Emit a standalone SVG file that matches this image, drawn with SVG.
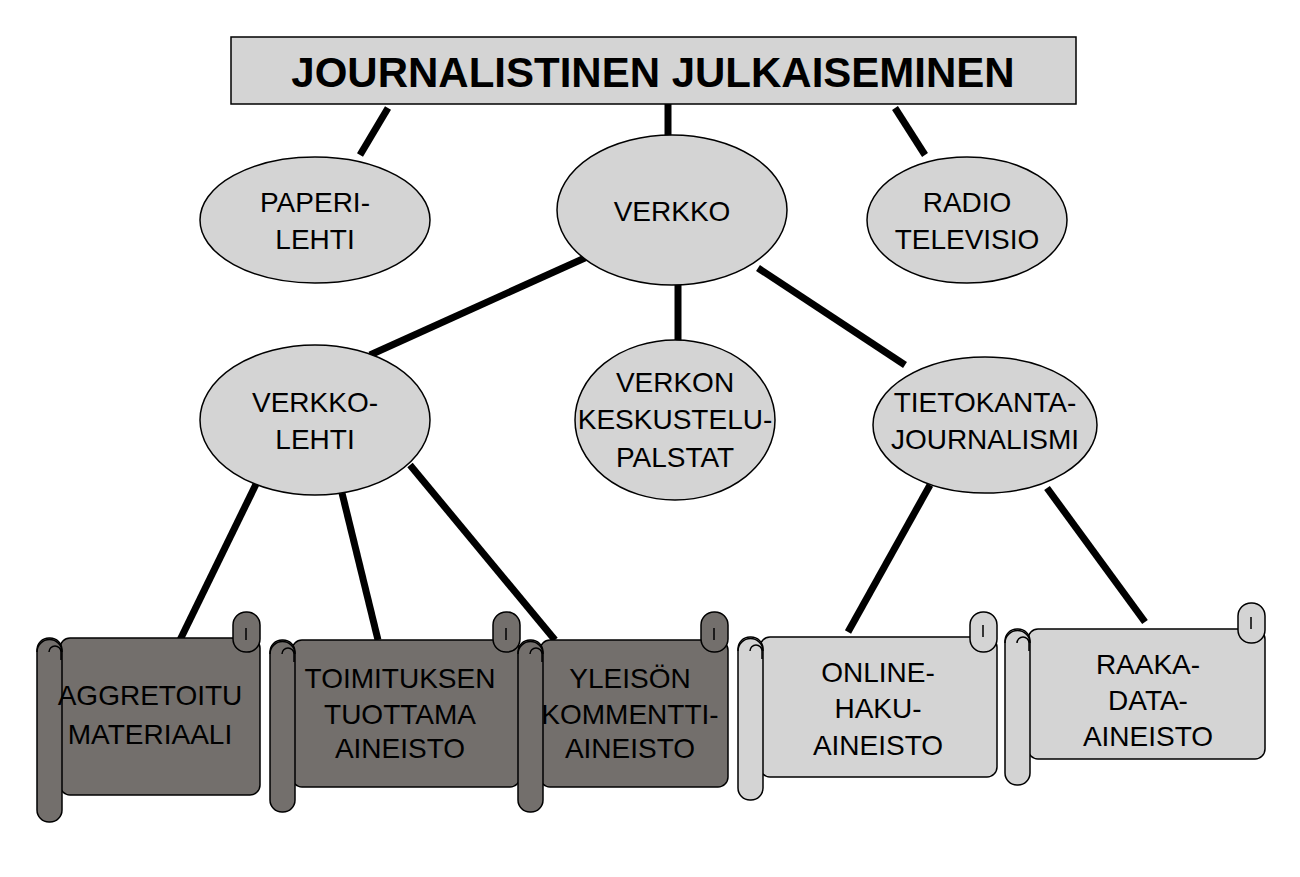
<svg xmlns="http://www.w3.org/2000/svg" width="1300" height="877" viewBox="0 0 1300 877">
<style>
.e{fill:#d4d4d4;stroke:#000;stroke-width:1.5}
.d{fill:#736f6c;stroke:#000;stroke-width:1.5}
.l{fill:#d4d4d4;stroke:#000;stroke-width:1.5}
.c{fill:none;stroke:#000;stroke-width:1.5}
text{font-family:"Liberation Sans",Arial,sans-serif;font-size:28px;text-anchor:middle;fill:#000}
#conn line{stroke:#000;stroke-width:7}
</style>
<rect width="1300" height="877" fill="#fff"/>
<g id="conn">
<line x1="388" y1="108" x2="360" y2="155"/>
<line x1="668" y1="104" x2="668" y2="136"/>
<line x1="895" y1="108" x2="925" y2="155"/>
<line x1="587" y1="257" x2="370" y2="355"/>
<line x1="678" y1="285" x2="678" y2="345"/>
<line x1="758" y1="268" x2="905" y2="365"/>
<line x1="260" y1="476" x2="180" y2="640"/>
<line x1="342" y1="493" x2="378" y2="640"/>
<line x1="410" y1="465" x2="555" y2="640"/>
<line x1="930" y1="485" x2="848" y2="632"/>
<line x1="1047" y1="488" x2="1145" y2="622"/>
</g>
<g id="title"><rect x="231" y="37" width="845" height="67" fill="#d4d4d4" stroke="#000" stroke-width="1.5"/>
<text x="653" y="87" style="font-size:42px;font-weight:bold">JOURNALISTINEN JULKAISEMINEN</text></g>
<g id="paperi"><ellipse class="e" cx="315" cy="220" rx="115" ry="63"/><text x="315" y="212">PAPERI-</text><text x="315" y="249">LEHTI</text></g>
<g id="verkko"><ellipse class="e" cx="672" cy="210" rx="115" ry="75"/><text x="672" y="221">VERKKO</text></g>
<g id="radio"><ellipse class="e" cx="967" cy="220" rx="100" ry="63"/><text x="967" y="212">RADIO</text><text x="967" y="249">TELEVISIO</text></g>
<g id="verkkolehti"><ellipse class="e" cx="315" cy="420" rx="115" ry="75"/><text x="315" y="412">VERKKO-</text><text x="315" y="449">LEHTI</text></g>
<g id="verkon"><ellipse class="e" cx="675" cy="420" rx="100" ry="80"/><text x="675" y="392">VERKON</text><text x="675" y="429">KESKUSTELU-</text><text x="675" y="467">PALSTAT</text></g>
<g id="tietokanta"><ellipse class="e" cx="985" cy="425" rx="112" ry="68"/><text x="985" y="412">TIETOKANTA-</text><text x="985" y="449">JOURNALISMI</text></g>
<g id="s1"><rect class="d" x="60" y="638" width="200" height="157" rx="10"/><rect class="d" x="233" y="612" width="27" height="40" rx="13"/><rect class="d" x="37" y="638" width="25" height="184" rx="12"/><path class="c" d="M37,652 a12,12 0 0 1 25,0 M49,652 a6,6 0 0 1 12,0 v8 M246,640 v-12"/>
<text x="150" y="705">AGGRETOITU</text><text x="150" y="744">MATERIAALI</text></g>
<g id="s2"><rect class="d" x="292" y="640" width="228" height="147" rx="10"/><rect class="d" x="493" y="612" width="27" height="40" rx="13"/><rect class="d" x="270" y="640" width="25" height="172" rx="12"/><path class="c" d="M270,654 a12,12 0 0 1 25,0 M282,654 a6,6 0 0 1 12,0 v8 M506,640 v-12"/>
<text x="400" y="688">TOIMITUKSEN</text><text x="400" y="724">TUOTTAMA</text><text x="400" y="758">AINEISTO</text></g>
<g id="s3"><rect class="d" x="540" y="640" width="188" height="147" rx="10"/><rect class="d" x="701" y="612" width="27" height="40" rx="13"/><rect class="d" x="518" y="640" width="25" height="172" rx="12"/><path class="c" d="M518,654 a12,12 0 0 1 25,0 M530,654 a6,6 0 0 1 12,0 v8 M714,640 v-12"/>
<text x="630" y="688">YLEISÖN</text><text x="630" y="724">KOMMENTTI-</text><text x="630" y="758">AINEISTO</text></g>
<g id="s4"><rect class="l" x="760" y="637" width="237" height="140" rx="10"/><rect class="l" x="970" y="612" width="27" height="40" rx="13"/><rect class="l" x="738" y="637" width="25" height="163" rx="12"/><path class="c" d="M738,651 a12,12 0 0 1 25,0 M750,651 a6,6 0 0 1 12,0 v8 M983,637 v-12"/>
<text x="878" y="682">ONLINE-</text><text x="878" y="718">HAKU-</text><text x="878" y="755">AINEISTO</text></g>
<g id="s5"><rect class="l" x="1028" y="629" width="237" height="130" rx="10"/><rect class="l" x="1238" y="603" width="27" height="40" rx="13"/><rect class="l" x="1005" y="629" width="25" height="156" rx="12"/><path class="c" d="M1005,643 a12,12 0 0 1 25,0 M1017,643 a6,6 0 0 1 12,0 v8 M1251,629 v-12"/>
<text x="1148" y="674">RAAKA-</text><text x="1148" y="710">DATA-</text><text x="1148" y="746">AINEISTO</text></g>
</svg>
